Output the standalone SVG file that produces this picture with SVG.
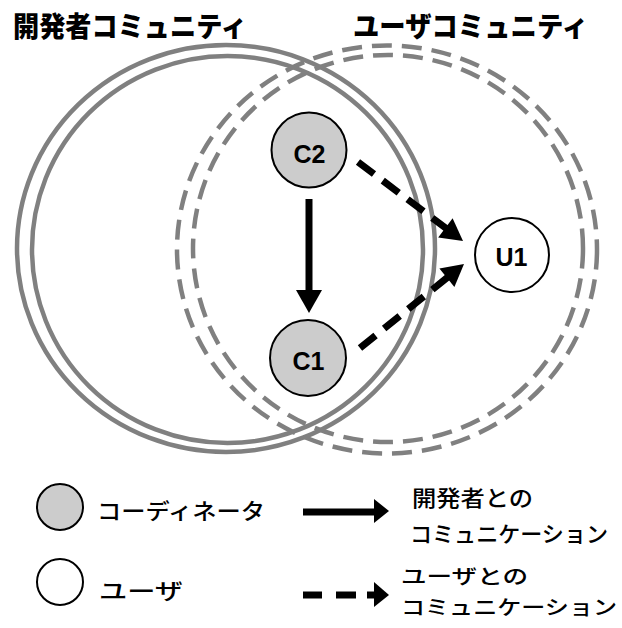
<svg xmlns="http://www.w3.org/2000/svg" width="622" height="628" viewBox="0 0 622 628">
<style>
.comm{fill:none;stroke:#808080;stroke-width:4.5}
.dash{stroke-dasharray:20 10}
.node{stroke:#000;stroke-width:2}
.coord{fill:#cccccc}
.user{fill:#fff}
.lbl{font-family:"Liberation Sans",Arial,sans-serif;font-weight:bold;font-size:25px;text-anchor:middle;fill:#000}
.title{font-family:"Noto Sans CJK JP",sans-serif;font-weight:900;font-size:28px;fill:#000}
.leg{font-family:"Noto Sans CJK JP",sans-serif;font-weight:500;font-size:22px;fill:#000}
.leg2{font-size:20px}
.arr{stroke:#000;stroke-width:7;fill:none}
.adash{stroke-dasharray:20 11}
.head{fill:#000}
</style>
<rect width="622" height="628" fill="#fff"/>
<g id="title-dev"><text class="title" x="13" y="37" textLength="234" lengthAdjust="spacingAndGlyphs">開発者コミュニティ</text></g>
<g id="title-user"><text class="title" x="353" y="37" textLength="235" lengthAdjust="spacingAndGlyphs">ユーザコミュニティ</text></g>
<g id="dev-community">
<ellipse class="comm" cx="226" cy="248.5" rx="209" ry="203.5"/>
<ellipse class="comm" cx="227.5" cy="249.5" rx="195.5" ry="193.5"/>
</g>
<g id="user-community">
<ellipse class="comm dash" cx="387" cy="249.5" rx="210" ry="204"/>
<ellipse class="comm dash" cx="388" cy="248.5" rx="195" ry="193.5"/>
</g>
<g id="connectors">
<line class="arr" x1="309" y1="199" x2="309" y2="292"/>
<polygon class="head" points="296,290 322,290 309,313"/>
<line class="arr adash" x1="358" y1="162" x2="447" y2="229"/>
<polygon class="head" points="438.2,237.4 452.6,218.2 463,241"/>
<line class="arr adash" x1="360" y1="348" x2="448" y2="277"/>
<polygon class="head" points="454.4,287.1 439.4,268.5 464,264"/>
</g>
<g id="C2"><circle class="node coord" cx="309" cy="150" r="37.5"/><text class="lbl" x="309.5" y="163">C2</text></g>
<g id="C1"><circle class="node coord" cx="308" cy="358" r="38"/><text class="lbl" x="308.5" y="370">C1</text></g>
<g id="U1"><circle class="node user" cx="512" cy="255" r="37"/><text class="lbl" x="511.5" y="266">U1</text></g>
<g id="legend">
<circle class="node coord" cx="60" cy="507" r="23"/>
<text class="leg" x="97" y="519" textLength="168" lengthAdjust="spacingAndGlyphs">コーディネータ</text>
<circle class="node user" cx="60" cy="582" r="23"/>
<text class="leg" x="99" y="599" textLength="84" lengthAdjust="spacingAndGlyphs">ユーザ</text>
<line class="arr" x1="303" y1="512" x2="376" y2="512"/>
<polygon class="head" points="374,499 389,511 374,523"/>
<line class="arr" x1="303" y1="595" x2="322" y2="595"/>
<line class="arr" x1="336" y1="595" x2="356" y2="595"/>
<line class="arr" x1="367" y1="595" x2="376" y2="595"/>
<polygon class="head" points="374,582 389,595 374,607"/>
<text class="leg" x="412" y="506" textLength="121" lengthAdjust="spacingAndGlyphs">開発者との</text>
<text class="leg" x="410" y="542" textLength="198" lengthAdjust="spacingAndGlyphs">コミュニケーション</text>
<text class="leg leg2" x="401" y="584" textLength="127" lengthAdjust="spacingAndGlyphs">ユーザとの</text>
<text class="leg leg2" x="401" y="615" textLength="216" lengthAdjust="spacingAndGlyphs">コミュニケーション</text>
</g>
</svg>
